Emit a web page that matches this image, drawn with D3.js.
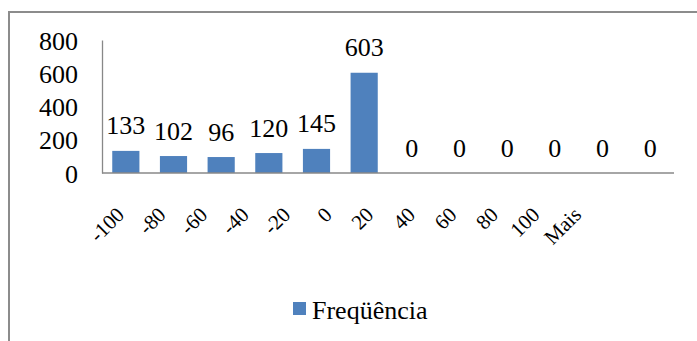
<!DOCTYPE html>
<html>
<head>
<meta charset="utf-8">
<script src="https://cdn.jsdelivr.net/npm/d3@7"></script>
<style>
  body { margin: 0; background: #fff; }
</style>
</head>
<body>
<div id="chart"></div>
<script>
const categories = ["-100", "-80", "-60", "-40", "-20", "0", "20", "40", "60", "80", "100", "Mais"];
const frequencies = [133, 102, 96, 120, 145, 603, 0, 0, 0, 0, 0, 0];
const yTicks = [0, 200, 400, 600, 800];
const seriesName = "Freqüência";

const W = 697, H = 341;
const plot = { left: 102, right: 674, top: 40, bottom: 173 };
const barColor = "#4f81bd";
const axisColor = "#888888";
const serif = "'Times New Roman', 'Liberation Serif', 'DejaVu Serif', serif";

const svg = d3.select("#chart").append("svg")
  .attr("width", W)
  .attr("height", H)
  .attr("font-family", serif);

// chart area border (right and bottom edges fall outside the picture)
svg.append("rect")
  .attr("x", 9)
  .attr("y", 12)
  .attr("width", 720)
  .attr("height", 400)
  .attr("fill", "none")
  .attr("stroke", "#8c8c8c")
  .attr("stroke-width", 2);

const x = d3.scaleBand()
  .domain(categories)
  .range([plot.left, plot.right])
  .paddingInner(0.43)
  .paddingOuter(0.215);

const y = d3.scaleLinear()
  .domain([0, 800])
  .range([plot.bottom, plot.top]);

// eixo Y
const yAxis = svg.append("g")
  .attr("transform", `translate(${plot.left},0)`)
  .call(d3.axisLeft(y).tickValues(yTicks).tickSize(0).tickPadding(24).tickFormat(d3.format("d")));
yAxis.attr("font-family", null).attr("font-size", null);
yAxis.select(".domain").attr("stroke", axisColor).attr("stroke-width", 1.3);
yAxis.selectAll("text")
  .style("font-family", serif)
  .style("font-size", "26px")
  .attr("fill", "#000")
  .attr("dy", "0.35em");

// barras
svg.selectAll(".bar")
  .data(frequencies)
  .enter()
  .append("rect")
  .attr("class", "bar")
  .attr("x", (d, i) => x(categories[i]))
  .attr("y", (d) => y(d))
  .attr("width", x.bandwidth())
  .attr("height", (d) => y(0) - y(d))
  .attr("fill", barColor);

// rótulos de dados
svg.selectAll(".label")
  .data(frequencies)
  .enter()
  .append("text")
  .attr("class", "label")
  .attr("x", (d, i) => x(categories[i]) + x.bandwidth() / 2)
  .attr("y", (d) => y(d) - 16.5)
  .attr("text-anchor", "middle")
  .style("font-family", serif)
  .style("font-size", "26px")
  .text((d) => d);

// eixo X (linha)
svg.append("line")
  .attr("x1", plot.left)
  .attr("x2", plot.right)
  .attr("y1", plot.bottom)
  .attr("y2", plot.bottom)
  .attr("stroke", axisColor)
  .attr("stroke-width", 1.3);

// rótulos do eixo X, inclinados (espaçados um pouco mais juntos que as barras, como no original)
const xLabels = d3.scalePoint()
  .domain(categories)
  .range([125, 582]);

const xAxis = svg.append("g")
  .attr("transform", `translate(0,216)`)
  .call(d3.axisBottom(xLabels).tickSize(0).tickPadding(0));
xAxis.attr("font-family", null).attr("font-size", null);
xAxis.select(".domain").remove();
xAxis.selectAll("text")
  .style("font-family", serif)
  .style("font-size", "21px")
  .attr("fill", "#000")
  .attr("y", 0)
  .attr("dy", 0)
  .attr("transform", "rotate(-45)")
  .style("text-anchor", "end");

// legenda
const legend = svg.append("g").attr("transform", "translate(293,302)");
legend.append("rect")
  .attr("width", 13)
  .attr("height", 13)
  .attr("fill", barColor);
legend.append("text")
  .attr("x", 19)
  .attr("y", 17)
  .style("font-family", serif)
  .style("font-size", "26px")
  .text(seriesName);
</script>
</body>
</html>
